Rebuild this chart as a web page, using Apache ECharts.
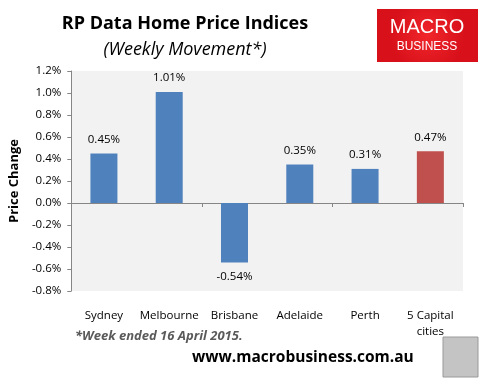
<!DOCTYPE html>
<html><head><meta charset="utf-8">
<script src="https://cdn.jsdelivr.net/npm/echarts@6/dist/echarts.min.js"></script>
<style>html,body{margin:0;padding:0;background:#fff}#c{width:490px;height:380px}</style>
</head><body><div id="c"></div>
<script>
const categories = ['Sydney','Melbourne','Brisbane','Adelaide','Perth','5 Capital\ncities'];
const values = [0.45, 1.01, -0.54, 0.35, 0.31, 0.47];
const labels = ['0.45%','1.01%','-0.54%','0.35%','0.31%','0.47%'];
const barColors = ['#4f81bd','#4f81bd','#4f81bd','#4f81bd','#4f81bd','#c0504d'];
const yMin = -0.8, yMax = 1.2, yStep = 0.2;

const FONT = '"Open Sans", "Liberation Sans", sans-serif';
const chart = echarts.init(document.getElementById('c'));
chart.setOption({
  animation: false,
  backgroundColor: '#ffffff',
  grid: {left: 67, right: 27, top: 71, bottom: 89, show: true, backgroundColor: '#f2f2f2', borderWidth: 0},
  title: [
    {text: 'RP Data Home Price Indices', left: 180, top: 10, textAlign: 'center',
     textStyle: {fontFamily: FONT, fontSize: 18, fontWeight: 'bold', color: '#000'}},
    {text: '(Weekly Movement*)', left: 180, top: 36, textAlign: 'center',
     textStyle: {fontFamily: FONT, fontSize: 18, fontStyle: 'italic', fontWeight: 'normal', color: '#000'}}
  ],
  xAxis: [
    {type: 'category', data: categories, position: 'bottom',
     axisLine: {onZero: true, lineStyle: {color: '#868686', width: 1}},
     axisTick: {show: true, inside: false, length: 4, lineStyle: {color: '#868686'}},
     axisLabel: {show: false}, splitLine: {show: false}},
    {type: 'category', data: categories, position: 'bottom',
     axisLine: {show: false, onZero: false}, axisTick: {show: false},
     axisLabel: {show: true, interval: 0, margin: 17, fontFamily: FONT, fontSize: 11.5, color: '#000', lineHeight: 16}}
  ],
  yAxis: {
    type: 'value', min: yMin, max: yMax, interval: yStep,
    name: 'Price Change', nameLocation: 'middle', nameGap: 43, nameRotate: 90,
    nameTextStyle: {fontFamily: FONT, fontSize: 13, fontWeight: 'bold', color: '#000'},
    axisLine: {show: true, lineStyle: {color: '#868686'}},
    axisTick: {show: true, inside: false, length: 4, lineStyle: {color: '#868686'}},
    splitLine: {show: false},
    axisLabel: {margin: 10, fontFamily: FONT, fontSize: 11.5, color: '#000',
      formatter: v => v.toFixed(1) + '%'}
  },
  series: [{
    type: 'bar', xAxisIndex: 0, barWidth: 27,
    data: values.map((v, i) => ({value: v, itemStyle: {color: barColors[i]},
      label: {show: true, position: v >= 0 ? 'top' : 'bottom', distance: 8, formatter: labels[i]}})),
    label: {fontFamily: FONT, fontSize: 11.5, color: '#000'}
  }],
  graphic: [
    {type: 'rect', shape: {x: 377, y: 9, width: 101, height: 53},
     style: {fill: new echarts.graphic.RadialGradient(0.5, 0.5, 0.7, [{offset: 0, color: '#f0262a'}, {offset: 1, color: '#d8101a'}])}},
    {type: 'text', x: 427, y: 17, style: {text: 'MACRO', fill: '#fff', font: '20px "Liberation Sans", sans-serif', align: 'center'}},
    {type: 'text', x: 427, y: 41, style: {text: 'BUSINESS', fill: '#fff', font: '12px "Liberation Sans", sans-serif', align: 'center'}},
    {type: 'text', x: 75, y: 330, style: {text: '*Week ended 16 April 2015.', fill: '#5a5a5a', font: 'italic bold 13px "Open Sans", sans-serif'}},
    {type: 'text', x: 192, y: 350, style: {text: 'www.macrobusiness.com.au', fill: '#000', font: 'bold 15.5px "Open Sans", sans-serif'}},
    {type: 'rect', shape: {x: 443, y: 337, width: 35, height: 40},
     style: {fill: '#c4c4c4', stroke: '#9a9a9a', lineWidth: 1}}
  ]
});
</script></body></html>
